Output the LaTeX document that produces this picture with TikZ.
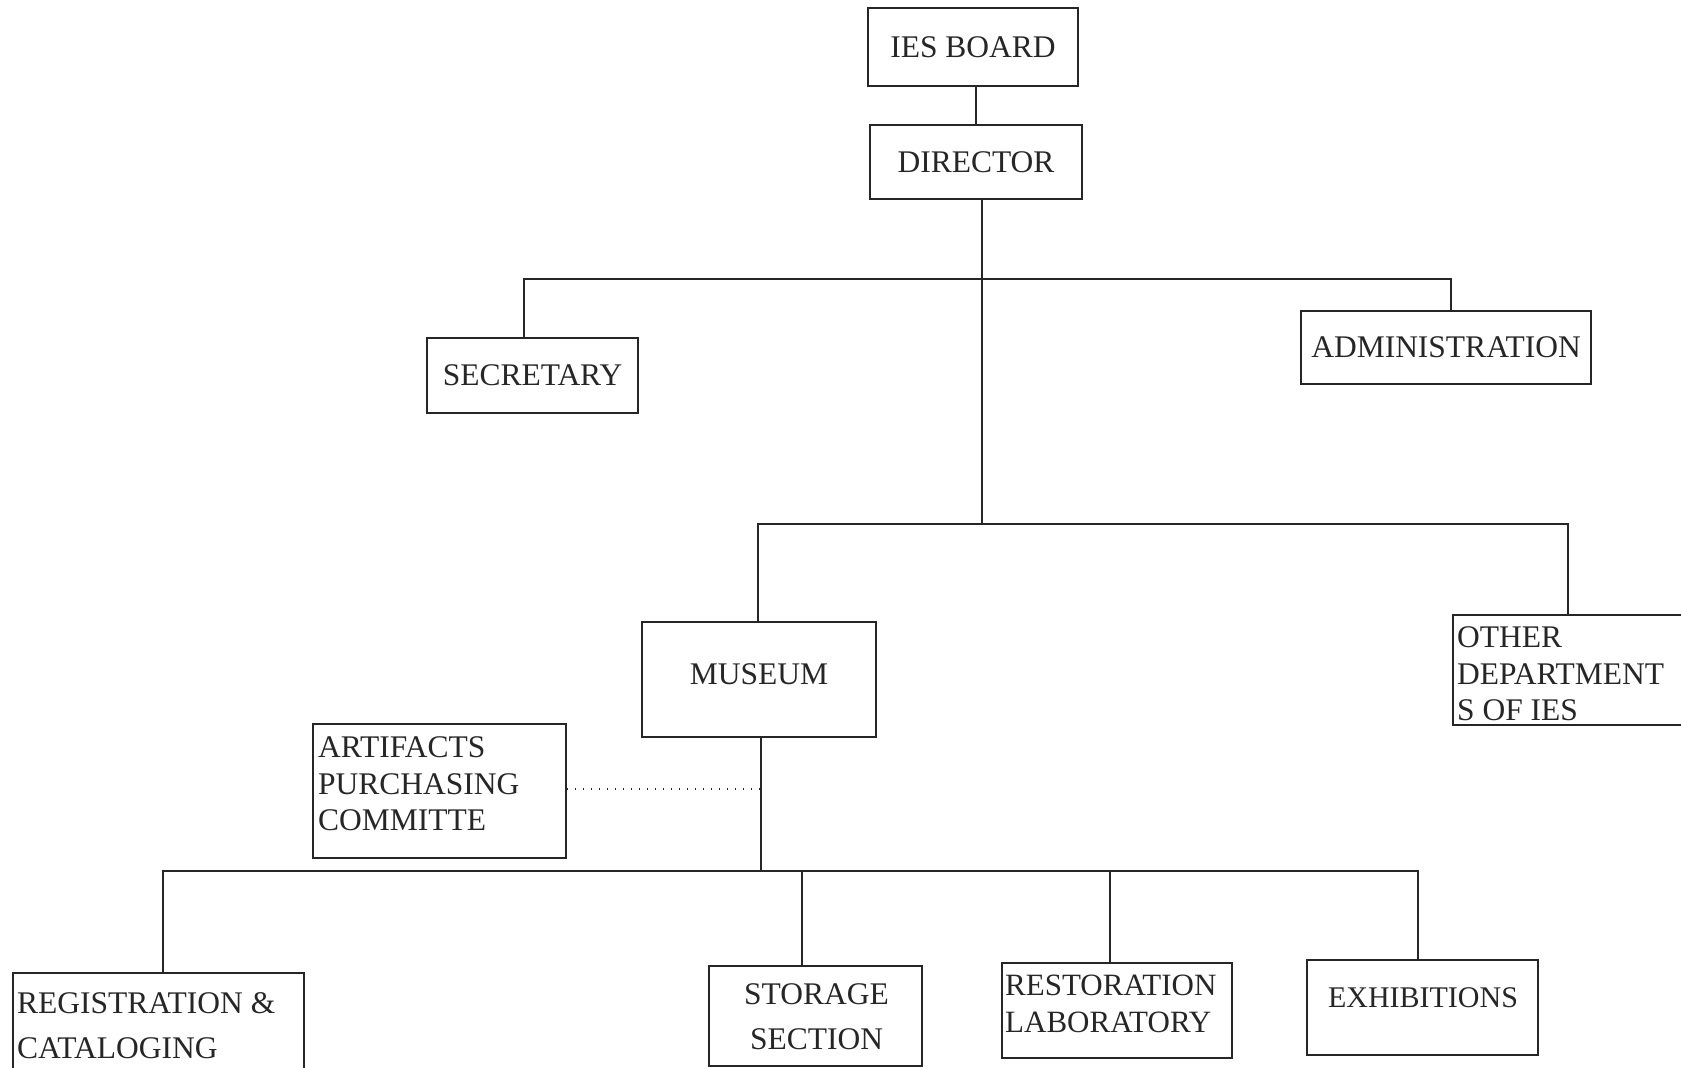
\documentclass[tikz,border=0pt]{standalone}
\usepackage{fontspec}
\setmainfont{Liberation Serif}
\newcommand\chartfont{\fontsize{31.5}{36.5}\selectfont}
\newcommand\chartsmall{\fontsize{30}{34}\selectfont}
\definecolor{inkc}{HTML}{262626}
\begin{document}
\begin{tikzpicture}[x=1pt,y=-1pt,
  ink/.style={draw=inkc, line width=1.6pt},
  box/.style={ink, rectangle, inner sep=0pt, text=inkc, font=\chartfont},
  lbl/.style={inner sep=0pt, text=inkc, font=\chartfont, align=left},
  lblsmall/.style={lbl, font=\chartsmall},
  dotline/.style={draw=inkc, line width=1.3pt, dash pattern=on 1.6pt off 6.4pt}]
\useasboundingbox (0,0) rectangle (1681,1068);

% boxes
\node[box, minimum width=210, minimum height=78] (ies) at (973,47) {IES BOARD};
\node[box, minimum width=212, minimum height=74] (dir) at (976,162) {DIRECTOR};
\node[box, minimum width=211, minimum height=75] (sec) at (532.5,375.5) {SECRETARY};
\node[box, minimum width=290, minimum height=73] (adm) at (1446,347.5) {ADMINISTRATION};
\node[box, minimum width=234, minimum height=115] (mus) at (759,679.5) {};
\node[box, minimum width=267, minimum height=110] (oth) at (1586.5,670) {};
\node[box, minimum width=253, minimum height=134] (art) at (439.5,791) {};
\node[box, minimum width=291, minimum height=117] (reg) at (158.5,1031.5) {};
\node[box, minimum width=213, minimum height=100] (sto) at (815.5,1016) {};
\node[box, minimum width=230, minimum height=95] (res) at (1117,1010.5) {};
\node[box, minimum width=231, minimum height=95] (exh) at (1422.5,1007.5) {};

% box texts
\node[lbl] (mus-t) at (759,674) {MUSEUM};
\node[lbl, anchor=north west] (oth-t) at (1457,626.5) {OTHER\\DEPARTMENT\\S OF IES};
\node[lbl, anchor=north west] (art-t) at (318,736.5) {ARTIFACTS\\PURCHASING\\COMMITTE};
\node[lbl, anchor=north west, font=\fontsize{31.5}{45}\selectfont] (reg-t) at (17,992.5) {REGISTRATION \&\\CATALOGING};
\node[lbl, anchor=north, align=center, font=\fontsize{31.5}{45}\selectfont] (sto-t) at (816.5,983.4) {STORAGE\\SECTION};
\node[lbl, anchor=north west, font=\fontsize{31}{37.5}\selectfont] (res-t) at (1005,974.5) {RESTORATION\\LABORATORY};
\node[lblsmall] (exh-t) at (1423,997.5) {EXHIBITIONS};

% bus levels
\coordinate (topbus) at (0,279);
\coordinate (midbus) at (0,524);
\coordinate (lowbus) at (0,871);

% connectors
\draw[ink] (ies.south -| dir.north) -- (dir.north);
\draw[ink] ([xshift=6pt]dir.south) -- ([xshift=6pt]dir.south |- midbus);
\draw[ink] ([xshift=-8.5pt]sec.north) |- ([xshift=5pt]adm.north |- topbus) -- ([xshift=5pt]adm.north);
\draw[ink] ([xshift=-1pt]mus.north) |- ([xshift=-18.5pt]oth.north |- midbus) -- ([xshift=-18.5pt]oth.north);
\draw[ink] ([xshift=2pt]mus.south) -- ([xshift=2pt]mus.south |- lowbus);
\draw[ink] ([xshift=4.5pt]reg.north) |- ([xshift=-4.5pt]exh.north |- lowbus) -- ([xshift=-4.5pt]exh.north);
\draw[ink] ([xshift=-13.5pt]sto.north) -- ([xshift=-13.5pt]sto.north |- lowbus);
\draw[ink] ([xshift=-7pt]res.north) -- ([xshift=-7pt]res.north |- lowbus);
\draw[dotline] ([yshift=2pt]art.east) -- ([xshift=2pt,yshift=2pt]art.east -| mus.south);
\end{tikzpicture}
\end{document}
